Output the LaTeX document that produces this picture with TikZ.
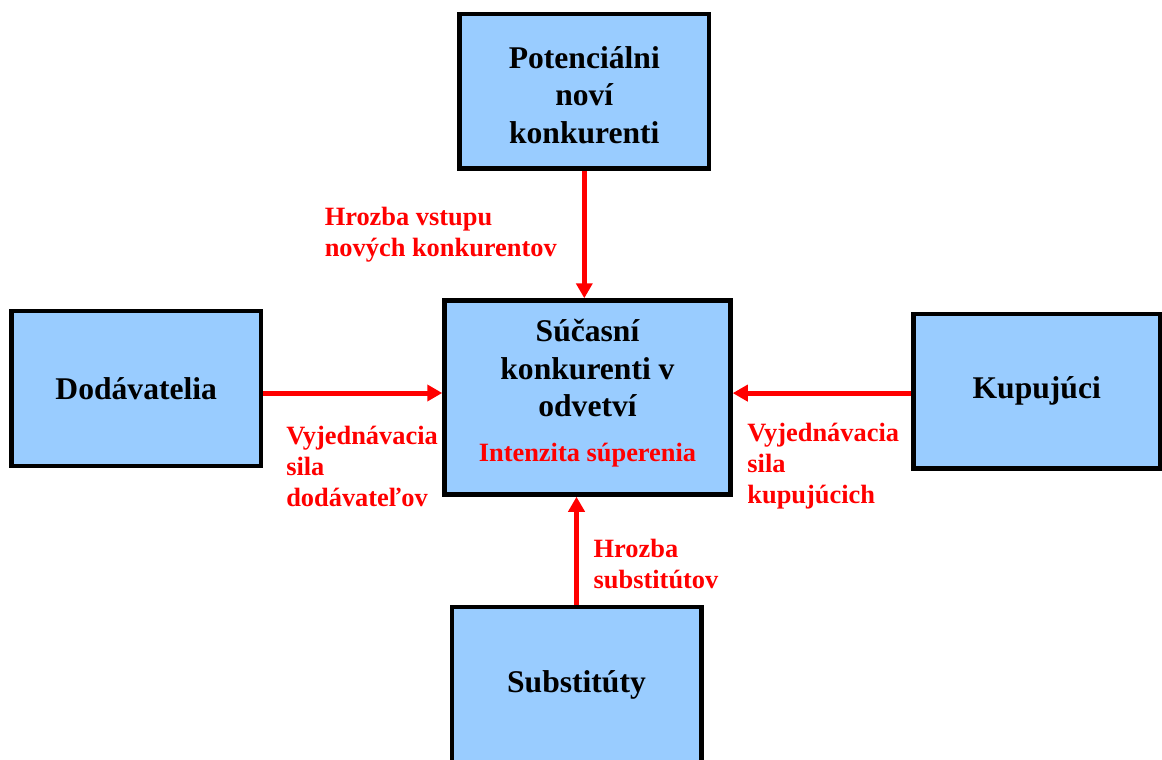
\documentclass[tikz,border=0pt]{standalone}
\usepackage{fontspec}
\setmainfont{Liberation Serif}
\usetikzlibrary{arrows.meta,positioning,shadows}
\definecolor{boxfill}{RGB}{153,204,255}
\definecolor{forcered}{RGB}{255,0,0}

\begin{document}
\begin{tikzpicture}[
    box/.style={rectangle, draw=black, line width=2.25pt, fill=boxfill,
                drop shadow={shadow xshift=0.8pt, shadow yshift=-0.8pt, fill=black!30, opacity=1},
                minimum width=124.75pt, minimum height=77.25pt, align=center,
                font=\bfseries\fontsize{15.8}{18.75}\selectfont},
    arr/.style={-{Triangle[length=7.5pt, width=8pt]}, line width=2.5pt, forcered},
    lbl/.style={inner sep=0pt, align=left, text=forcered,
                font=\bfseries\fontsize{13.2}{15.5}\selectfont}
]
\useasboundingbox (0,0) rectangle (581pt,-380pt);

\node[box, minimum width=143pt, minimum height=97pt] (cur) at (293.75pt,-198.75pt)
    {S\'u\v{c}asn\'i\\konkurenti v\\odvetv\'i\\[3.75pt]{\color{forcered}\fontsize{13.2}{15.5}\selectfont Intenzita s\'uperenia\rule[-6.9pt]{0pt}{0pt}}};
\node[box, above=63.75pt of cur, xshift=-1.6pt] (pot) {\rule{0pt}{14.5pt}Potenci\'alni\\nov\'i\\konkurenti};
\node[box, left=89.5pt of cur, yshift=4.5pt, minimum height=77.5pt] (dod) {Dod\'avatelia};
\node[box, right=89.25pt of cur, yshift=3.1pt, minimum width=123.25pt] (kup) {Kupuj\'uci};
\node[box, below=54pt of cur, xshift=-5.5pt, minimum height=77.5pt] (sub) {Substit\'uty};

\draw[arr] (pot.south) -- (pot.south |- cur.north)
    node[lbl, midway, left=12.5pt] {Hrozba vstupu\\nov\'ych konkurentov};
\draw[arr] ([yshift=-2.25pt]dod.east) -- ([yshift=-2.25pt]dod.east -| cur.west)
    node[lbl, pos=0, anchor=north west, xshift=10.25pt, yshift=-15.35pt] {Vyjedn\'avacia\\sila\\dod\'avate\v{l}ov};
\draw[arr] ([yshift=-0.9pt]kup.west) -- ([yshift=-0.9pt]kup.west -| cur.east)
    node[lbl, pos=1, anchor=north west, xshift=6.1pt, yshift=-13.65pt] {Vyjedn\'avacia\\sila\\kupuj\'ucich};
\draw[arr] (sub.north) -- (sub.north |- cur.south)
    node[lbl, midway, right=7.35pt, yshift=-6.5pt] {Hrozba\\substit\'utov};
\end{tikzpicture}
\end{document}
